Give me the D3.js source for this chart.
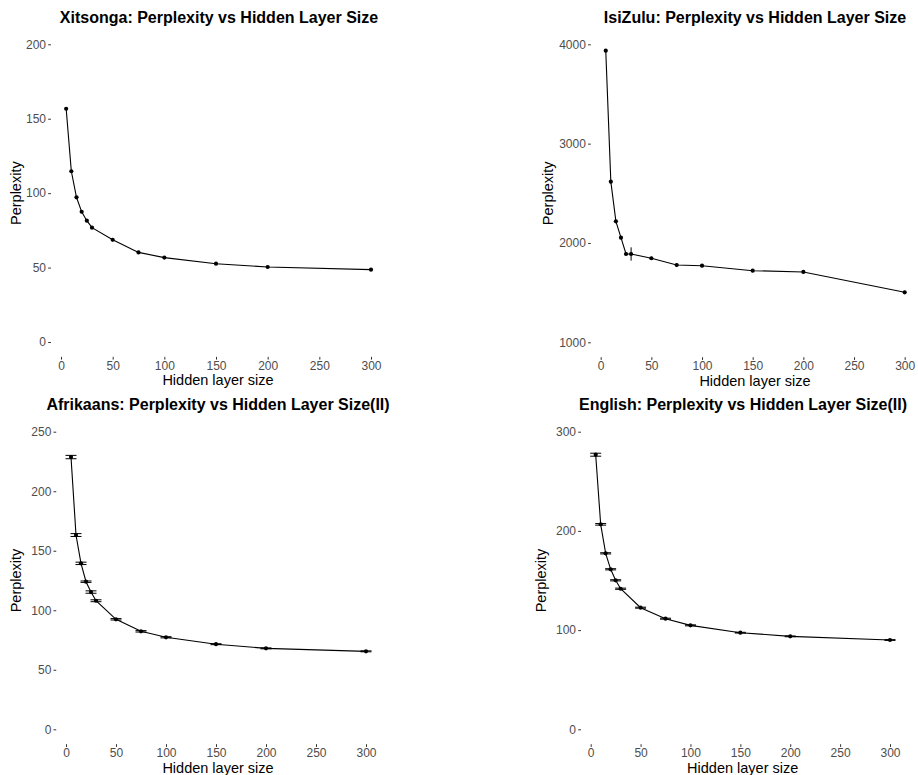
<!DOCTYPE html>
<html>
<head>
<meta charset="utf-8">
<script src="https://cdn.jsdelivr.net/npm/d3@7"></script>
<style>
  body { margin: 0; background: #fff; }
  svg { font-family: "Liberation Sans", Arial, sans-serif; }
  .tick text { fill: #4d4d4d; font-size: 12px; }
  .tick line { stroke: #333; }
  .title { font-size: 16px; font-weight: bold; fill: #000; }
  .axlab { font-size: 14.5px; fill: #000; }
</style>
</head>
<body>
<script>
// hidden layer sizes used in every run
var hiddenSizes = [5, 10, 15, 20, 25, 30, 50, 75, 100, 150, 200, 300];

var xitsongaPpl = [156.7, 114.7, 97.2, 87.5, 81.5, 76.8, 68.7, 60.2, 56.7, 52.6, 50.4, 48.6];
var xitsongaErr = [0.8, 0.8, 0.6, 0.6, 0.5, 0.5, 1.2, 0.6, 0.5, 0.5, 0.5, 0.5];

var isizuluPpl = [3936, 2617, 2218, 2053, 1889, 1889, 1846, 1778, 1771, 1721, 1708, 1503];
var isizuluErr = [15, 15, 15, 15, 15, 67, 15, 20, 15, 15, 15, 15];

var afrikaansPpl = [228.7, 163.2, 139.4, 124.0, 115.3, 108.0, 92.4, 82.3, 77.3, 71.5, 68.0, 65.5];
var afrikaansErr = [1.4, 1.2, 1.0, 0.6, 1.0, 0.8, 0.6, 0.6, 0.5, 0.4, 0.4, 0.4];

var englishPpl = [276.8, 206.6, 177.4, 161.3, 150.2, 141.7, 122.6, 111.5, 104.8, 97.4, 93.7, 90.0];
var englishErr = [1.5, 0.8, 0.6, 0.6, 0.6, 0.6, 0.5, 0.5, 0.5, 0.4, 0.4, 0.4];

var xTicks = [0, 50, 100, 150, 200, 250, 300];

var panels = [
  {title: "Xitsonga: Perplexity vs Hidden Layer Size", ppl: xitsongaPpl, err: xitsongaErr,
   yDomain: [0, 200], yTicks: [0, 50, 100, 150, 200], cap: 0,
   xr: [61, 371], yr: [342, 44.3], titleX: 219, titleY: 22.7, yLabX: 20.7, xLabX: 218},
  {title: "IsiZulu: Perplexity vs Hidden Layer Size", ppl: isizuluPpl, err: isizuluErr,
   yDomain: [1000, 4000], yTicks: [1000, 2000, 3000, 4000], cap: 0,
   xr: [600.7, 904.7], yr: [342.3, 44.3], titleX: 755, titleY: 22.7, yLabX: 553.4, xLabX: 755},
  {title: "Afrikaans: Perplexity vs Hidden Layer Size(II)", ppl: afrikaansPpl, err: afrikaansErr,
   yDomain: [0, 250], yTicks: [0, 50, 100, 150, 200, 250], cap: 11,
   xr: [66, 366], yr: [729.3, 431.7], titleX: 218, titleY: 410, yLabX: 20.7, xLabX: 218},
  {title: "English: Perplexity vs Hidden Layer Size(II)", ppl: englishPpl, err: englishErr,
   yDomain: [0, 300], yTicks: [0, 100, 200, 300], cap: 11,
   xr: [590.7, 890], yr: [729.3, 431.7], titleX: 743, titleY: 410, yLabX: 545.5, xLabX: 742.7}
];

var svg = d3.select("body").append("svg")
    .attr("width", 918)
    .attr("height", 775);

panels.forEach(function(p) {
    var x = d3.scaleLinear().domain([0, 300]).range(p.xr);
    var y = d3.scaleLinear().domain(p.yDomain).range(p.yr);

    // ggplot style 5% expansion for panel edges
    var xSpan = 300 - 5;
    var left = x(5 - xSpan * 0.05);
    var ySpan = p.yDomain[1] - p.yDomain[0];
    var bottom = y(p.yDomain[0] - ySpan * 0.05);

    var data = hiddenSizes.map(function(h, i) {
        return {h: h, v: p.ppl[i], e: p.err[i]};
    });

    var g = svg.append("g");

    g.append("g")
        .attr("transform", "translate(" + left + ",0)")
        .call(d3.axisLeft(y).tickValues(p.yTicks).tickSize(2.75).tickPadding(2.2).tickFormat(d3.format("d")))
        .call(function(a) { a.select(".domain").remove(); })
        .selectAll("text").attr("font-family", null).attr("font-size", null);

    g.append("g")
        .attr("transform", "translate(0," + bottom + ")")
        .call(d3.axisBottom(x).tickValues(xTicks).tickSize(2.75).tickPadding(1.5))
        .call(function(a) { a.select(".domain").remove(); })
        .selectAll("text").attr("font-family", null).attr("font-size", null);

    // error bars
    var eb = g.selectAll(".eb")
        .data(data)
        .enter().append("g")
        .attr("class", "eb")
        .attr("stroke", "#000")
        .attr("stroke-width", 1);

    eb.append("line")
        .attr("x1", function(d) { return x(d.h); })
        .attr("x2", function(d) { return x(d.h); })
        .attr("y1", function(d) { return y(d.v - d.e); })
        .attr("y2", function(d) { return y(d.v + d.e); });

    if (p.cap > 0) {
        [-1, 1].forEach(function(s) {
            eb.append("line")
                .attr("x1", function(d) { return x(d.h - p.cap / 2); })
                .attr("x2", function(d) { return x(d.h + p.cap / 2); })
                .attr("y1", function(d) { return y(d.v + s * d.e); })
                .attr("y2", function(d) { return y(d.v + s * d.e); });
        });
    }

    g.append("path")
        .datum(data)
        .attr("fill", "none")
        .attr("stroke", "#000")
        .attr("stroke-width", 1.1)
        .attr("d", d3.line()
            .x(function(d) { return x(d.h); })
            .y(function(d) { return y(d.v); }));

    g.selectAll(".pt")
        .data(data)
        .enter().append("circle")
        .attr("class", "pt")
        .attr("cx", function(d) { return x(d.h); })
        .attr("cy", function(d) { return y(d.v); })
        .attr("r", 2.1)
        .attr("fill", "#000");

    g.append("text")
        .attr("class", "title")
        .attr("x", p.titleX)
        .attr("y", p.titleY)
        .attr("text-anchor", "middle")
        .text(p.title);

    g.append("text")
        .attr("class", "axlab")
        .attr("x", p.xLabX)
        .attr("y", bottom + 28.6)
        .attr("text-anchor", "middle")
        .text("Hidden layer size");

    var yMid = (p.yr[0] + p.yr[1]) / 2;
    g.append("text")
        .attr("class", "axlab")
        .attr("transform", "translate(" + p.yLabX + "," + yMid + ") rotate(-90)")
        .attr("text-anchor", "middle")
        .text("Perplexity");
});
</script>
</body>
</html>
